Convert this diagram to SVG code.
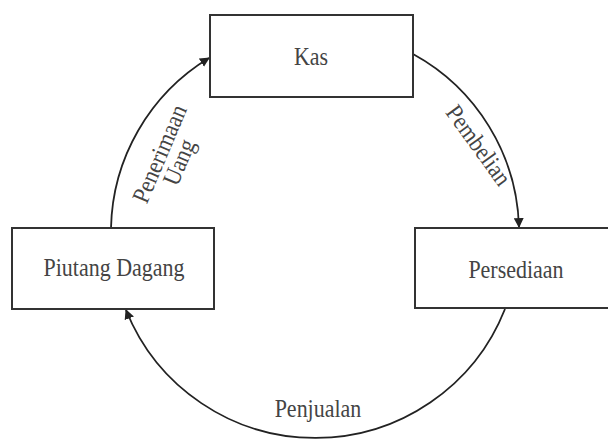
<svg xmlns="http://www.w3.org/2000/svg" width="608" height="441" viewBox="0 0 608 441">
<style>
.box{fill:#fff;stroke:#333;stroke-width:2}
.lbl{font-family:"Liberation Serif","Times New Roman",serif;font-size:22px;fill:#444;text-anchor:middle}
.arc{fill:none;stroke:#222;stroke-width:1.8;marker-end:url(#ah)}
</style>
<defs>
<marker id="ah" viewBox="0 0 10 10" refX="9" refY="5" markerWidth="5.5" markerHeight="5.5" orient="auto" markerUnits="strokeWidth">
<path d="M0,0 L10,5 L0,10 Z" fill="#222"/>
</marker>
</defs>
<rect width="608" height="441" fill="#fff"/>
<g id="connectors">
<path class="arc" d="M111,228 A204,204 0 0 1 209,58"/>
<path class="arc" d="M413,54 A204,204 0 0 1 519,227"/>
<path class="arc" d="M505,309 A204,204 0 0 1 126,310"/>
<g id="label-penerimaan" transform="translate(167,157) rotate(-67) scale(1,1.12)">
<text class="lbl" x="0" y="0">Penerimaan</text>
<text class="lbl" x="0" y="19">Uang</text>
</g>
<text class="lbl" transform="translate(472,150) rotate(54) scale(1,1.12)" x="0" y="0">Pembelian</text>
<text class="lbl" transform="translate(318,417) scale(1,1.12)" x="0" y="0">Penjualan</text>
</g>
<g id="kas">
<rect class="box" x="210" y="15" width="203" height="82"/>
<text class="lbl" transform="translate(311,65) scale(1,1.12)" x="0" y="0">Kas</text>
</g>
<g id="persediaan">
<rect class="box" x="415" y="228" width="200" height="80"/>
<text class="lbl" transform="translate(516,278) scale(1,1.12)" x="0" y="0">Persediaan</text>
</g>
<g id="piutang">
<rect class="box" x="12" y="228" width="202" height="81"/>
<text class="lbl" transform="translate(114,276) scale(1,1.12)" x="0" y="0">Piutang Dagang</text>
</g>
</svg>
